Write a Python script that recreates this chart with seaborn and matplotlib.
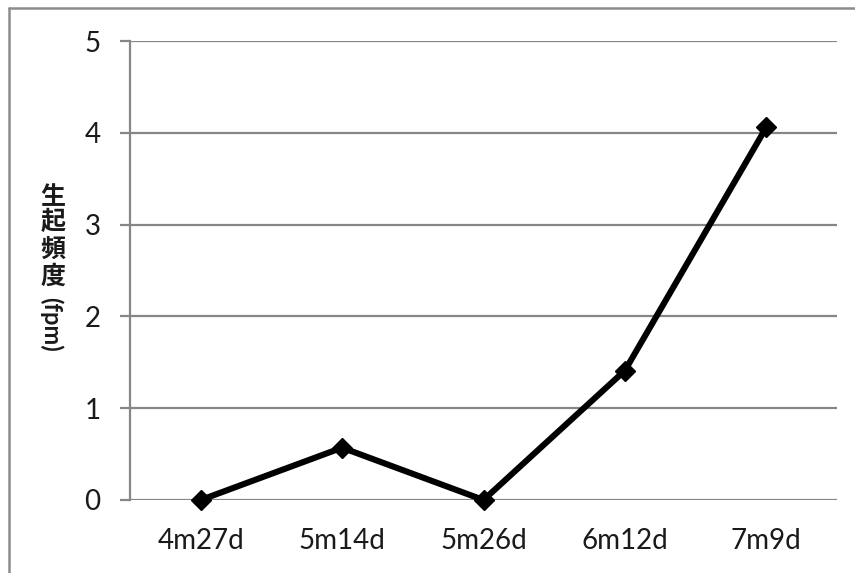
import matplotlib
matplotlib.use("Agg")
import matplotlib.pyplot as plt
from matplotlib.lines import Line2D
import seaborn as sns
import pandas as pd

dates = ["4m27d", "5m14d", "5m26d", "6m12d", "7m9d"]
values = [0.0, 0.57, 0.0, 1.41, 4.06]
yticks = [0, 1, 2, 3, 4, 5]
ylabel_chars = ["生", "起", "頻", "度"]
ylabel_unit = "(fpm)"

sns.set_theme(style="white")
plt.rcParams["font.family"] = ["Lato", "Noto Sans CJK JP", "DejaVu Sans"]

df = pd.DataFrame({"date": dates, "fpm": values})

W, H = 855, 573
fig = plt.figure(figsize=(W / 100, H / 100), dpi=100)
ax = fig.add_axes([130 / W, (H - 500) / H, (837 - 130) / W, (500 - 41) / H])

grid_c = "#868686"
ax.set_ylim(0, 5)
ax.set_xlim(-0.5, 4.5)
ax.set_yticks(yticks)
ax.yaxis.grid(True, color=grid_c, linewidth=1.6)
ax.xaxis.grid(False)
ax.set_axisbelow(True)

sns.lineplot(data=df, x="date", y="fpm", ax=ax, color="black", linewidth=4.4,
             marker="D", markersize=10.5, markeredgecolor="black",
             markeredgewidth=1, sort=False, clip_on=False, zorder=5)
ax.set_xlim(-0.5, 4.5)
ax.set_ylim(0, 5)

for s in ["top", "right", "bottom"]:
    ax.spines[s].set_visible(False)
ax.spines["left"].set_color(grid_c)
ax.spines["left"].set_linewidth(1.6)

ax.tick_params(axis="y", which="major", left=True, length=7.2, width=1.6,
               color=grid_c, pad=14, labelsize=20, labelcolor="#1a1a1a")
ax.tick_params(axis="x", which="major", bottom=False, length=0, pad=20,
               labelsize=20, labelcolor="#1a1a1a")
ax.set_xlabel("")
ax.set_ylabel("")

# vertical stacked y label
cjk = ["Noto Sans CJK JP", "DejaVu Sans"]
ys = [197, 222, 250, 276.5]
for ch, yy in zip(ylabel_chars, ys):
    fig.text(53 / W, 1 - yy / H, ch, ha="center", va="center",
             fontsize=18, fontweight="bold", family=cjk, color="#1a1a1a")
fig.text(51 / W, 1 - 324 / H, ylabel_unit, ha="center", va="center",
         rotation=-90, fontsize=17, fontweight="bold",
         family=["Lato", "DejaVu Sans"], color="#1a1a1a")

# outer chart frame (left and top edges visible)
frame_c = "#8c8c8c"
fig.add_artist(Line2D([9 / W, 9 / W], [0, 1 - 8 / H], transform=fig.transFigure,
                      color=frame_c, linewidth=1.8))
fig.add_artist(Line2D([9 / W, 1], [1 - 8 / H, 1 - 8 / H], transform=fig.transFigure,
                      color=frame_c, linewidth=1.8))

fig.savefig("out.png", dpi=100, facecolor="white")
